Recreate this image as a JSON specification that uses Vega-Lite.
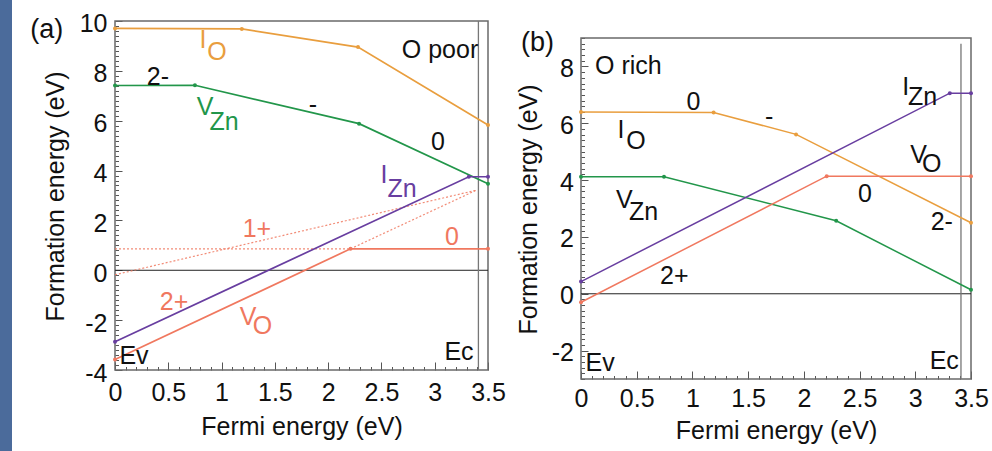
{
  "$schema": "https://vega.github.io/schema/vega-lite/v6.json",
  "padding": 0,
  "background": "white",
  "config": {
    "font": "Liberation Sans",
    "view": {"stroke": null},
    "axis": {"grid": false, "domain": false, "labelColor": "#111111", "titleColor": "#111111", "labelFontSize": 25, "titleFontSize": 25, "titleFontWeight": "normal", "tickColor": "#555555", "tickWidth": 1, "labelFlush": false, "labelOverlap": false}
  },
  "datasets": {
    "curves": [
      {"panel": "a", "series": "IO", "seg": "IO", "branch": "stable", "x": 0, "y": 9.7},
      {"panel": "a", "series": "IO", "seg": "IO", "branch": "stable", "x": 1.19, "y": 9.68},
      {"panel": "a", "series": "IO", "seg": "IO", "branch": "stable", "x": 2.28, "y": 8.95},
      {"panel": "a", "series": "IO", "seg": "IO", "branch": "stable", "x": 3.5, "y": 5.83},
      {"panel": "a", "series": "VZn", "seg": "VZn", "branch": "stable", "x": 0, "y": 7.41},
      {"panel": "a", "series": "VZn", "seg": "VZn", "branch": "stable", "x": 0.75, "y": 7.42},
      {"panel": "a", "series": "VZn", "seg": "VZn", "branch": "stable", "x": 2.29, "y": 5.88},
      {"panel": "a", "series": "VZn", "seg": "VZn", "branch": "stable", "x": 3.5, "y": 3.47},
      {"panel": "a", "series": "IZn", "seg": "IZn", "branch": "stable", "x": 0, "y": -2.87},
      {"panel": "a", "series": "IZn", "seg": "IZn", "branch": "stable", "x": 3.32, "y": 3.75},
      {"panel": "a", "series": "IZn", "seg": "IZn", "branch": "stable", "x": 3.5, "y": 3.75},
      {"panel": "a", "series": "VO", "seg": "VO", "branch": "stable", "x": 0, "y": -3.58},
      {"panel": "a", "series": "VO", "seg": "VO", "branch": "stable", "x": 2.21, "y": 0.86},
      {"panel": "a", "series": "VO", "seg": "VO", "branch": "stable", "x": 3.5, "y": 0.86},
      {"panel": "a", "series": "VO", "seg": "VO_0", "branch": "unstable", "x": 0, "y": 0.86},
      {"panel": "a", "series": "VO", "seg": "VO_0", "branch": "unstable", "x": 2.21, "y": 0.86},
      {"panel": "a", "series": "VO", "seg": "VO_1", "branch": "unstable", "x": 0, "y": -0.18},
      {"panel": "a", "series": "VO", "seg": "VO_1", "branch": "unstable", "x": 3.39, "y": 3.21},
      {"panel": "a", "series": "VO", "seg": "VO_2", "branch": "unstable", "x": 2.21, "y": 0.86},
      {"panel": "a", "series": "VO", "seg": "VO_2", "branch": "unstable", "x": 3.39, "y": 3.21},
      {"panel": "b", "series": "IO", "seg": "IO", "branch": "stable", "x": 0, "y": 6.4},
      {"panel": "b", "series": "IO", "seg": "IO", "branch": "stable", "x": 1.19, "y": 6.38},
      {"panel": "b", "series": "IO", "seg": "IO", "branch": "stable", "x": 1.93, "y": 5.61},
      {"panel": "b", "series": "IO", "seg": "IO", "branch": "stable", "x": 3.5, "y": 2.5},
      {"panel": "b", "series": "VZn", "seg": "VZn", "branch": "stable", "x": 0, "y": 4.12},
      {"panel": "b", "series": "VZn", "seg": "VZn", "branch": "stable", "x": 0.745, "y": 4.12},
      {"panel": "b", "series": "VZn", "seg": "VZn", "branch": "stable", "x": 2.29, "y": 2.57},
      {"panel": "b", "series": "VZn", "seg": "VZn", "branch": "stable", "x": 3.5, "y": 0.14},
      {"panel": "b", "series": "IZn", "seg": "IZn", "branch": "stable", "x": 0, "y": 0.43},
      {"panel": "b", "series": "IZn", "seg": "IZn", "branch": "stable", "x": 3.31, "y": 7.06},
      {"panel": "b", "series": "IZn", "seg": "IZn", "branch": "stable", "x": 3.5, "y": 7.06},
      {"panel": "b", "series": "VO", "seg": "VO", "branch": "stable", "x": 0, "y": -0.3},
      {"panel": "b", "series": "VO", "seg": "VO", "branch": "stable", "x": 2.205, "y": 4.14},
      {"panel": "b", "series": "VO", "seg": "VO", "branch": "stable", "x": 3.5, "y": 4.14}
    ],
    "labels": [
      {"panel": "a", "kind": "tag", "text": "(a)", "x": -0.64, "y": 9.65, "series": "plain"},
      {"panel": "a", "kind": "note", "text": "O poor", "x": 3.05, "y": 8.85, "series": "plain"},
      {"panel": "a", "kind": "note", "text": "I", "x": 0.826, "y": 9.25, "series": "IO"},
      {"panel": "a", "kind": "note", "text": "O", "x": 0.957, "y": 8.77, "series": "IO"},
      {"panel": "a", "kind": "note", "text": "V", "x": 0.845, "y": 6.53, "series": "VZn"},
      {"panel": "a", "kind": "note", "text": "Zn", "x": 1.023, "y": 5.94, "series": "VZn"},
      {"panel": "a", "kind": "note", "text": "2-", "x": 0.403, "y": 7.75, "series": "plain"},
      {"panel": "a", "kind": "note", "text": "-", "x": 1.858, "y": 6.61, "series": "plain"},
      {"panel": "a", "kind": "note", "text": "0", "x": 3.031, "y": 5.14, "series": "plain"},
      {"panel": "a", "kind": "note", "text": "I", "x": 2.524, "y": 3.83, "series": "IZn"},
      {"panel": "a", "kind": "note", "text": "Zn", "x": 2.693, "y": 3.27, "series": "IZn"},
      {"panel": "a", "kind": "note", "text": "1+", "x": 1.332, "y": 1.67, "series": "VO"},
      {"panel": "a", "kind": "note", "text": "0", "x": 3.162, "y": 1.33, "series": "VO"},
      {"panel": "a", "kind": "note", "text": "2+", "x": 0.554, "y": -1.26, "series": "VO"},
      {"panel": "a", "kind": "note", "text": "V", "x": 1.248, "y": -1.86, "series": "VO"},
      {"panel": "a", "kind": "note", "text": "O", "x": 1.384, "y": -2.22, "series": "VO"},
      {"panel": "a", "kind": "note", "text": "Ev", "x": 0.178, "y": -3.42, "series": "plain"},
      {"panel": "a", "kind": "note", "text": "Ec", "x": 3.228, "y": -3.26, "series": "plain"},
      {"panel": "b", "kind": "tag", "text": "(b)", "x": -0.391, "y": 8.82, "series": "plain"},
      {"panel": "b", "kind": "note", "text": "O rich", "x": 0.425, "y": 8.03, "series": "plain"},
      {"panel": "b", "kind": "note", "text": "0", "x": 1.009, "y": 6.74, "series": "plain"},
      {"panel": "b", "kind": "note", "text": "-", "x": 1.689, "y": 6.22, "series": "plain"},
      {"panel": "b", "kind": "note", "text": "I", "x": 0.358, "y": 5.77, "series": "plain"},
      {"panel": "b", "kind": "note", "text": "O", "x": 0.493, "y": 5.36, "series": "plain"},
      {"panel": "b", "kind": "note", "text": "V", "x": 0.388, "y": 3.31, "series": "plain"},
      {"panel": "b", "kind": "note", "text": "Zn", "x": 0.561, "y": 2.87, "series": "plain"},
      {"panel": "b", "kind": "note", "text": "I", "x": 2.915, "y": 7.29, "series": "plain"},
      {"panel": "b", "kind": "note", "text": "Zn", "x": 3.066, "y": 6.91, "series": "plain"},
      {"panel": "b", "kind": "note", "text": "V", "x": 3.029, "y": 4.89, "series": "plain"},
      {"panel": "b", "kind": "note", "text": "O", "x": 3.148, "y": 4.57, "series": "plain"},
      {"panel": "b", "kind": "note", "text": "0", "x": 2.549, "y": 3.52, "series": "plain"},
      {"panel": "b", "kind": "note", "text": "2-", "x": 3.238, "y": 2.54, "series": "plain"},
      {"panel": "b", "kind": "note", "text": "2+", "x": 0.837, "y": 0.61, "series": "plain"},
      {"panel": "b", "kind": "note", "text": "Ev", "x": 0.171, "y": -2.44, "series": "plain"},
      {"panel": "b", "kind": "note", "text": "Ec", "x": 3.26, "y": -2.35, "series": "plain"}
    ]
  },
  "spacing": 18,
  "hconcat": [
    {
      "width": 12,
      "height": 451,
      "data": {"values": [{}]},
      "mark": {"type": "rect", "color": "#4b6b9b"}
    },
    {
      "spacing": 10,
      "hconcat": [
        {
          "width": 373,
          "height": 370,
          "resolve": {"axis": {"x": "independent", "y": "independent"}},
          "layer": [
            {
              "data": {"values": [{}]},
              "mark": {"type": "rect", "fill": "transparent", "stroke": "#6a6a6a", "strokeWidth": 1.5},
              "encoding": {
                "x": {"datum": 0, "axis": null}, "x2": {"datum": 3.5},
                "y": {"datum": -4, "axis": null}, "y2": {"datum": 10}
              }
            },
            {
              "data": {"values": [{}]},
              "mark": {"type": "rule", "color": "#222222", "strokeWidth": 1},
              "encoding": {"x": {"datum": 0, "axis": null}, "x2": {"datum": 3.5}, "y": {"datum": 0, "axis": null}}
            },
            {
              "data": {"values": [{}]},
              "mark": {"type": "rule", "color": "#777777", "strokeWidth": 1.3},
              "encoding": {"x": {"datum": 3.41, "axis": null}, "y": {"datum": -4, "axis": null}, "y2": {"datum": 10}}
            },
            {
              "data": {"name": "curves"},
              "transform": [{"filter": "datum.panel === 'a' && datum.branch === 'unstable'"}],
              "mark": {"type": "line", "strokeWidth": 1.2, "strokeDash": [2, 2], "opacity": 0.85},
              "encoding": {
                "x": {"field": "x", "type": "quantitative", "axis": null},
                "y": {"field": "y", "type": "quantitative", "axis": null},
                "detail": {"field": "seg"},
                "color": {"field": "series", "legend": null, "scale": {"domain": ["IO", "VZn", "IZn", "VO", "plain"], "range": ["#e99e3e", "#22964a", "#683ea0", "#f0785f", "#111111"]}}
              }
            },
            {
              "data": {"name": "curves"},
              "transform": [{"filter": "datum.panel === 'a' && datum.branch === 'stable'"}],
              "mark": {"type": "line", "strokeWidth": 1.7},
              "encoding": {
                "x": {
                  "field": "x", "type": "quantitative",
                  "scale": {"domain": [0, 3.5], "nice": false, "zero": false},
                  "axis": {
                    "orient": "bottom",
                    "title": "Fermi energy (eV)",
                    "values": [0, 0.5, 1, 1.5, 2, 2.5, 3, 3.5],
                    "tickSize": -8,
                    "labelExpr": "toString(datum.value)",
                    "labelOverlap": false,
                    "labelFlush": false,
                    "labelPadding": 18,
                    "titlePadding": 9
                  }
                },
                "y": {
                  "field": "y", "type": "quantitative",
                  "scale": {"domain": [-4, 10.84], "nice": false, "zero": false},
                  "axis": {
                    "orient": "left",
                    "title": "Formation energy (eV)",
                    "titleY": 196,
                    "values": [-4, -2, 0, 2, 4, 6, 8, 10],
                    "tickSize": -7,
                    "labelExpr": "toString(datum.value)",
                    "labelOverlap": false,
                    "labelPadding": 15,
                    "labelOffset": 3,
                    "titlePadding": 11
                  }
                },
                "detail": {"field": "seg"},
                "color": {"field": "series", "legend": null, "scale": {"domain": ["IO", "VZn", "IZn", "VO", "plain"], "range": ["#e99e3e", "#22964a", "#683ea0", "#f0785f", "#111111"]}}
              }
            },
            {
              "data": {"name": "curves"},
              "transform": [{"filter": "datum.panel === 'a' && datum.branch === 'stable'"}],
              "mark": {"type": "circle", "size": 16, "opacity": 1},
              "encoding": {
                "x": {
                  "field": "x", "type": "quantitative",
                  "axis": {"orient": "bottom", "title": null, "labels": false, "tickSize": -3.5,
                    "values": [0.1,0.2,0.3,0.4,0.6,0.7,0.8,0.9,1.1,1.2,1.3,1.4,1.6,1.7,1.8,1.9,2.1,2.2,2.3,2.4,2.6,2.7,2.8,2.9,3.1,3.2,3.3,3.4]}
                },
                "y": {
                  "field": "y", "type": "quantitative",
                  "axis": {"orient": "left", "title": null, "labels": false, "tickSize": -3.5,
                    "values": [-3.8,-3.6,-3.4,-3.2,-3,-2.8,-2.6,-2.4,-2.2,-1.8,-1.6,-1.4,-1.2,-1,-0.8,-0.6,-0.4,-0.2,0.2,0.4,0.6,0.8,1,1.2,1.4,1.6,1.8,2.2,2.4,2.6,2.8,3,3.2,3.4,3.6,3.8,4.2,4.4,4.6,4.8,5,5.2,5.4,5.6,5.8,6.2,6.4,6.6,6.8,7,7.2,7.4,7.6,7.8,8.2,8.4,8.6,8.8,9,9.2,9.4,9.6,9.8]}
                },
                "color": {"field": "series", "legend": null, "scale": {"domain": ["IO", "VZn", "IZn", "VO", "plain"], "range": ["#e99e3e", "#22964a", "#683ea0", "#f0785f", "#111111"]}}
              }
            },
            {
              "data": {"name": "labels"},
              "transform": [{"filter": "datum.panel === 'a'"}],
              "mark": {"type": "text", "fontSize": 25, "align": "center", "baseline": "middle"},
              "encoding": {
                "x": {"field": "x", "type": "quantitative", "axis": null},
                "y": {"field": "y", "type": "quantitative", "axis": null},
                "text": {"field": "text"},
                "size": {"field": "kind", "legend": null, "scale": {"domain": ["note", "tag"], "range": [25, 27]}},
                "color": {"field": "series", "legend": null, "scale": {"domain": ["IO", "VZn", "IZn", "VO", "plain"], "range": ["#e99e3e", "#22964a", "#683ea0", "#f0785f", "#111111"]}}
              }
            }
          ]
        },
        {
          "width": 390,
          "height": 379,
          "resolve": {"axis": {"x": "independent", "y": "independent"}},
          "layer": [
            {
              "data": {"values": [{}]},
              "mark": {"type": "rect", "fill": "transparent", "stroke": "#6a6a6a", "strokeWidth": 1.5},
              "encoding": {
                "x": {"datum": 0, "axis": null}, "x2": {"datum": 3.5},
                "y": {"datum": -3, "axis": null}, "y2": {"datum": 9}
              }
            },
            {
              "data": {"values": [{}]},
              "mark": {"type": "rule", "color": "#222222", "strokeWidth": 1},
              "encoding": {"x": {"datum": 0, "axis": null}, "x2": {"datum": 3.5}, "y": {"datum": 0, "axis": null}}
            },
            {
              "data": {"values": [{}]},
              "mark": {"type": "rule", "color": "#777777", "strokeWidth": 1.3},
              "encoding": {"x": {"datum": 3.41, "axis": null}, "y": {"datum": -3, "axis": null}, "y2": {"datum": 8.8}}
            },
            {
              "data": {"name": "curves"},
              "transform": [{"filter": "datum.panel === 'b' && datum.branch === 'stable'"}],
              "mark": {"type": "line", "strokeWidth": 1.5},
              "encoding": {
                "x": {
                  "field": "x", "type": "quantitative",
                  "scale": {"domain": [0, 3.5], "nice": false, "zero": false},
                  "axis": {
                    "orient": "bottom",
                    "title": "Fermi energy (eV)",
                    "values": [0, 0.5, 1, 1.5, 2, 2.5, 3, 3.5],
                    "tickSize": -8,
                    "labelExpr": "toString(datum.value)",
                    "labelOverlap": false,
                    "labelFlush": false,
                    "labelPadding": 15.5,
                    "titlePadding": 7
                  }
                },
                "y": {
                  "field": "y", "type": "quantitative",
                  "scale": {"domain": [-3, 10.34], "nice": false, "zero": false},
                  "axis": {
                    "orient": "left",
                    "title": "Formation energy (eV)",
                    "titleY": 209,
                    "values": [-2, 0, 2, 4, 6, 8],
                    "tickSize": -7,
                    "labelExpr": "toString(datum.value)",
                    "labelOverlap": false,
                    "labelPadding": 14.5,
                    "labelOffset": 2,
                    "titlePadding": 10
                  }
                },
                "detail": {"field": "seg"},
                "color": {"field": "series", "legend": null, "scale": {"domain": ["IO", "VZn", "IZn", "VO", "plain"], "range": ["#e99e3e", "#22964a", "#683ea0", "#f0785f", "#111111"]}}
              }
            },
            {
              "data": {"name": "curves"},
              "transform": [{"filter": "datum.panel === 'b' && datum.branch === 'stable'"}],
              "mark": {"type": "circle", "size": 16, "opacity": 1},
              "encoding": {
                "x": {
                  "field": "x", "type": "quantitative",
                  "axis": {"orient": "bottom", "title": null, "labels": false, "tickSize": -3.5,
                    "values": [0.1,0.2,0.3,0.4,0.6,0.7,0.8,0.9,1.1,1.2,1.3,1.4,1.6,1.7,1.8,1.9,2.1,2.2,2.3,2.4,2.6,2.7,2.8,2.9,3.1,3.2,3.3,3.4]}
                },
                "y": {
                  "field": "y", "type": "quantitative",
                  "axis": {"orient": "left", "title": null, "labels": false, "tickSize": -3.5,
                    "values": [-3,-2.8,-2.6,-2.4,-2.2,-1.8,-1.6,-1.4,-1.2,-1,-0.8,-0.6,-0.4,-0.2,0.2,0.4,0.6,0.8,1,1.2,1.4,1.6,1.8,2.2,2.4,2.6,2.8,3,3.2,3.4,3.6,3.8,4.2,4.4,4.6,4.8,5,5.2,5.4,5.6,5.8,6.2,6.4,6.6,6.8,7,7.2,7.4,7.6,7.8,8.2,8.4,8.6,8.8,9]}
                },
                "color": {"field": "series", "legend": null, "scale": {"domain": ["IO", "VZn", "IZn", "VO", "plain"], "range": ["#e99e3e", "#22964a", "#683ea0", "#f0785f", "#111111"]}}
              }
            },
            {
              "data": {"name": "labels"},
              "transform": [{"filter": "datum.panel === 'b'"}],
              "mark": {"type": "text", "fontSize": 25, "align": "center", "baseline": "middle"},
              "encoding": {
                "x": {"field": "x", "type": "quantitative", "axis": null},
                "y": {"field": "y", "type": "quantitative", "axis": null},
                "text": {"field": "text"},
                "size": {"field": "kind", "legend": null, "scale": {"domain": ["note", "tag"], "range": [25, 27]}},
                "color": {"field": "series", "legend": null, "scale": {"domain": ["IO", "VZn", "IZn", "VO", "plain"], "range": ["#e99e3e", "#22964a", "#683ea0", "#f0785f", "#111111"]}}
              }
            }
          ]
        }
      ]
    }
  ]
}
